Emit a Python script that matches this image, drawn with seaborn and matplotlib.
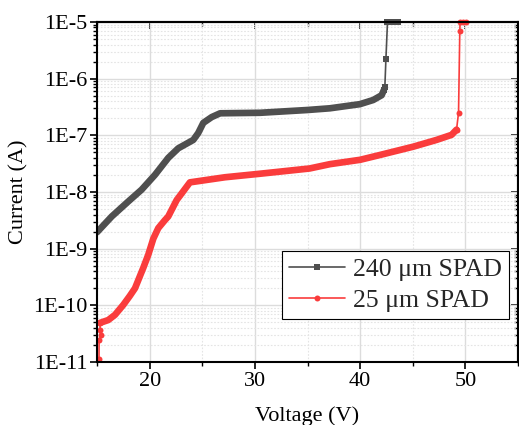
import numpy as np
import pandas as pd
import seaborn as sns
import matplotlib.pyplot as plt
from matplotlib.ticker import LogLocator, NullFormatter, FuncFormatter, MultipleLocator

# 240 um SPAD - dense part of the sweep (V, A)
v_240 = [15.0, 16.4, 17.97, 19.24, 20.5, 21.77, 22.72, 24.15, 24.62, 25.1, 25.9,
         26.7, 30.5, 35.0, 37.13, 39.98, 41.24, 42.04, 42.26]
i_240 = [1.95e-9, 3.7e-9, 6.8e-9, 1.1e-8, 2.0e-8, 4.0e-8, 5.9e-8, 8.3e-8, 1.1e-7,
         1.66e-7, 2.1e-7, 2.45e-7, 2.5e-7, 2.8e-7, 3.0e-7, 3.55e-7, 4.2e-7, 5.1e-7, 6.3e-7]
# 240 um SPAD - breakdown (sparse points)
v_240_bd = [42.26, 42.35, 42.45, 42.6, 43.0, 43.3, 43.6]
i_240_bd = [6.3e-7, 7.2e-7, 2.2e-6, 1e-5, 1e-5, 1e-5, 1e-5]

# 25 um SPAD - first few noisy points
v_25_start = [15.19, 15.2, 15.35, 15.3, 15.28]
i_25_start = [1.15e-11, 2.4e-11, 3.0e-11, 3.6e-11, 4.9e-11]
# 25 um SPAD - dense part
v_25 = [15.28, 16.07, 16.71, 17.5, 18.1, 18.61, 19.4, 19.87, 20.35, 20.82, 21.46, 21.77,
        22.57, 23.83, 27.16, 30.48, 35.2, 37.13, 40.0, 41.88, 45.04, 47.26, 48.69, 49.16]
i_25 = [4.9e-11, 5.5e-11, 6.8e-11, 1.02e-10, 1.45e-10, 2.0e-10, 4.6e-10, 7.8e-10, 1.5e-9,
        2.3e-9, 3.2e-9, 3.7e-9, 7.2e-9, 1.48e-8, 1.82e-8, 2.1e-8, 2.6e-8, 3.1e-8, 3.7e-8,
        4.5e-8, 6.3e-8, 8.3e-8, 1.02e-7, 1.26e-7]
# 25 um SPAD - breakdown
v_25_bd = [49.16, 49.35, 49.47, 49.5, 49.8, 50.1]
i_25_bd = [1.26e-7, 2.5e-7, 6.9e-6, 1e-5, 1e-5, 1e-5]

GRAY = '#4F4F4F'
RED = '#FA3C3C'

sns.set_theme(style='white')
plt.rcParams['font.family'] = ['Liberation Serif', 'DejaVu Serif']

fig = plt.figure(figsize=(5.19, 4.25), dpi=100)
ax = fig.add_axes([97 / 519, 63 / 425, 421 / 519, 340 / 425])

ax.set_yscale('log')
ax.set_xlim(15, 55)
ax.set_ylim(1e-11, 1e-5)
ax.xaxis.set_major_locator(MultipleLocator(10))
ax.xaxis.set_minor_locator(MultipleLocator(5))
ax.yaxis.set_major_locator(LogLocator(base=10, numticks=20))
ax.yaxis.set_minor_locator(LogLocator(base=10, subs=np.arange(2, 10), numticks=20))
ax.yaxis.set_minor_formatter(NullFormatter())
ax.yaxis.set_major_formatter(FuncFormatter(lambda v, _: f"1E{int(round(np.log10(v)))}"))
ax.grid(True, which='major', color='#DCDCDC', lw=1.0, ls='-')
ax.grid(True, which='minor', color='#E4E4E4', lw=0.8, ls=(0, (1.5, 1.5)))
ax.set_axisbelow(True)

# dense parts look like thick lines
sns.lineplot(x=v_240, y=i_240, ax=ax, color=GRAY, lw=4.8, sort=False,
             estimator=None, legend=False, solid_capstyle='round')
sns.lineplot(x=v_25_start, y=i_25_start, ax=ax, color=RED, lw=1.2, sort=False,
             estimator=None, legend=False, marker='o', markersize=4.3,
             markeredgewidth=0, clip_on=False)
sns.lineplot(x=v_25, y=i_25, ax=ax, color=RED, lw=4.8, sort=False,
             estimator=None, legend=False, solid_capstyle='round')

# breakdown parts with markers (these carry the legend)
sns.lineplot(x=v_240_bd, y=i_240_bd, ax=ax, color=GRAY, lw=1.2, sort=False,
             estimator=None, marker='s', markersize=4.0, markeredgewidth=0,
             label='240 μm SPAD', clip_on=False)
sns.lineplot(x=v_25_bd, y=i_25_bd, ax=ax, color=RED, lw=1.2, sort=False,
             estimator=None, marker='o', markersize=4.3, markeredgewidth=0,
             label='25 μm SPAD', clip_on=False)

for s in ax.spines.values():
    s.set_color('black')
    s.set_linewidth(1.5)

ax.tick_params(axis='both', which='major', direction='out', length=5, width=1.2,
               labelsize=16, colors='black', left=True, bottom=True, pad=2)
ax.tick_params(axis='both', which='minor', direction='out', length=3, width=1.0,
               left=True, bottom=True, colors='black')

# mirrored ticks pointing inward on top and right
top = ax.secondary_xaxis('top')
top.xaxis.set_major_locator(MultipleLocator(10))
top.xaxis.set_minor_locator(MultipleLocator(5))
top.tick_params(which='major', direction='in', length=5, width=1.2, labeltop=False, colors='black')
top.tick_params(which='minor', direction='in', length=3, width=1.0, colors='black')
top.spines['top'].set_linewidth(1.5)
right = ax.secondary_yaxis('right')
right.yaxis.set_major_locator(LogLocator(base=10, numticks=20))
right.yaxis.set_minor_locator(LogLocator(base=10, subs=np.arange(2, 10), numticks=20))
right.yaxis.set_minor_formatter(NullFormatter())
right.tick_params(which='major', direction='in', length=5, width=1.2, labelright=False, colors='black')
right.tick_params(which='minor', direction='in', length=3, width=1.0, colors='black')
right.spines['right'].set_linewidth(1.5)

ax.set_xlabel('Voltage (V)', fontsize=16, labelpad=11, color='black')
ax.set_ylabel('Current (A)', fontsize=16, labelpad=3, color='black')

leg = ax.legend(loc='lower right', bbox_to_anchor=(0.979, 0.126), borderaxespad=0,
                fontsize=18.5, frameon=True, fancybox=False, framealpha=1,
                handlelength=2.2, handletextpad=0.3, labelspacing=0.3,
                borderpad=0.28, edgecolor='black')
leg.get_frame().set_linewidth(0.8)

fig.savefig('out.png', dpi=100)
